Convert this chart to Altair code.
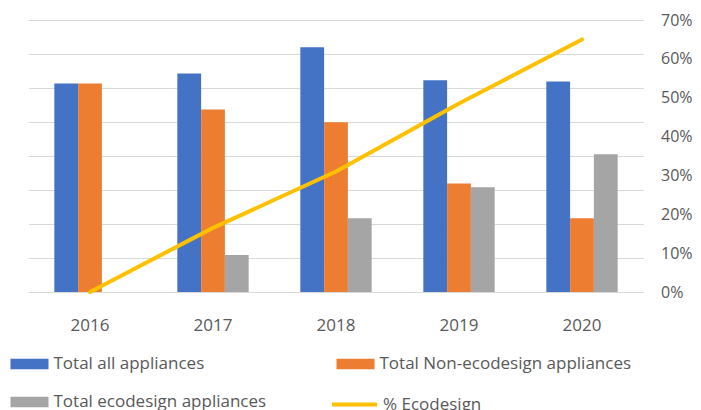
import altair as alt
import pandas as pd

years = ["2016", "2017", "2018", "2019", "2020"]
series = ["Total all appliances", "Total Non-ecodesign appliances", "Total ecodesign appliances"]
total_all = [6.13, 6.43, 7.20, 6.23, 6.19]
non_eco = [6.13, 5.37, 4.99, 3.19, 2.17]
eco = [0.0, 1.09, 2.17, 3.08, 4.05]
pct_eco = [0.0, 0.165, 0.31, 0.485, 0.65]
line_label = "% Ecodesign"
pct_ticks = [0, 0.1, 0.2, 0.3, 0.4, 0.5, 0.6, 0.7]
left_ticks = [0, 1, 2, 3, 4, 5, 6, 7, 8]

bar_colors = ["#4472C4", "#ED7D31", "#A5A5A5"]
line_color = "#FFC000"
text_color = "#595959"
grid_color = "#D9D9D9"
font = "Open Sans"
fs = 17

rows = []
for s, vals in zip(series, [total_all, non_eco, eco]):
    for y, v in zip(years, vals):
        rows.append({"year": y, "series": s, "value": v})
df_bars = pd.DataFrame(rows)
df_line = pd.DataFrame({"year": years, "pct": pct_eco, "label": [line_label] * len(years)})

x_enc = alt.X(
    "year:N",
    sort=years,
    scale=alt.Scale(paddingInner=0.42, paddingOuter=0.21),
    axis=alt.Axis(title=None, labelAngle=0, ticks=False, domain=False,
                  labelFont=font, labelFontSize=fs, labelColor=text_color,
                  labelPadding=25, grid=False),
)

bars = alt.Chart(df_bars).mark_bar().encode(
    x=x_enc,
    xOffset=alt.XOffset("series:N", sort=series, scale=alt.Scale(domain=series, paddingInner=0, paddingOuter=0)),
    y=alt.Y("value:Q", scale=alt.Scale(domain=[0, 8], nice=False),
            axis=alt.Axis(title=None, labels=False, ticks=False, domain=False,
                          grid=True, values=left_ticks, gridColor=grid_color, gridWidth=1.2)),
    color=alt.Color("series:N", sort=series,
                    scale=alt.Scale(domain=series, range=bar_colors),
                    legend=alt.Legend(title=None, orient="none", legendX=-18, legendY=325,
                                      direction="horizontal",
                                      columns=2, columnPadding=70, rowPadding=11, padding=0,
                                      symbolType="M-1,-0.28L1,-0.28L1,0.28L-1,0.28Z",
                                      symbolSize=1444, symbolStrokeWidth=0, symbolOpacity=1,
                                      labelFont=font, labelFontSize=fs, labelColor=text_color,
                                      labelOffset=5, labelLimit=0)),
)

line = alt.Chart(df_line).mark_line(strokeWidth=4, strokeCap="round", strokeJoin="round").encode(
    x=alt.X("year:N", sort=years),
    y=alt.Y("pct:Q", scale=alt.Scale(domain=[0, 0.7], nice=False),
            axis=alt.Axis(title=None, orient="right", format=".0%", values=pct_ticks,
                          grid=False, ticks=False, domain=False, labelFont=font,
                          labelFontSize=16, labelColor=text_color, labelPadding=17)),
    stroke=alt.Stroke("label:N", scale=alt.Scale(domain=[line_label], range=[line_color]),
                      legend=alt.Legend(title=None, orient="none", legendX=301.5, legendY=360,
                                        padding=0, symbolType="stroke", symbolSize=2025,
                                        symbolStrokeWidth=4, labelFont=font, labelFontSize=fs,
                                        labelColor=text_color, labelOffset=4, labelLimit=0)),
)

chart = alt.layer(bars, line).resolve_scale(y="independent").properties(
    width=615, height=272,
    autosize=alt.AutoSizeParams(type="none"),
    padding={"left": 20.5, "top": 12, "right": 49.5, "bottom": 118},
    background="white",
).configure_view(stroke=None)

chart.save("out.html", embed_options={"renderer": "svg", "actions": False})
